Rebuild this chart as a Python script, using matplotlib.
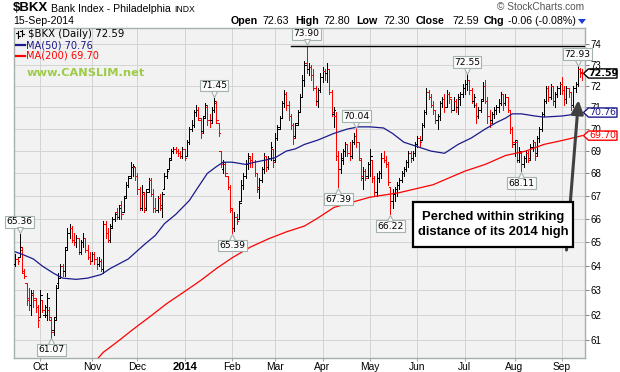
import numpy as np
import pandas as pd
import matplotlib
matplotlib.use('Agg')
import matplotlib.pyplot as plt
import matplotlib.transforms as mtrans
from matplotlib.collections import LineCollection
from matplotlib.patches import Polygon, Rectangle, FancyArrowPatch
from matplotlib.lines import Line2D
from matplotlib.ticker import FixedLocator, FixedFormatter, NullLocator

# --- data: $BKX daily bars, 16-Sep-2013 .. 15-Sep-2014 ---
holidays = ['2013-11-28', '2013-12-25', '2014-01-01', '2014-01-20', '2014-02-17',
            '2014-04-18', '2014-05-26', '2014-07-04', '2014-09-01']
days = pd.bdate_range('2013-09-16', '2014-09-15', freq='C', holidays=holidays)

opens = [
    # Sep
    64.1, 64.3, 64.4, 64.7, 63.7, 63.3, 62.7, 62.4, 62.8, 62.6, 62.3,
    # Oct
    61.9, 62.6, 62.0, 62.0, 62.2, 61.8, 61.4, 61.9, 63.3, 63.6, 64.0, 63.8, 64.8, 65.4, 65.6, 65.1,
    65.0, 65.2, 64.6, 65.0, 65.2, 64.7, 64.4,
    # Nov
    64.2, 64.5, 64.3, 64.1, 64.2, 63.9, 65.8, 65.4, 65.1, 65.7, 66.0, 66.3, 66.1, 66.6, 66.3, 67.0,
    67.5, 67.9, 68.3, 68.3,
    # Dec
    67.9, 67.3, 66.5, 67.1, 66.5, 67.3, 67.7, 67.1, 66.5, 66.4, 66.9, 66.5, 67.3, 67.9, 68.2, 68.7,
    69.0, 69.1, 69.0, 68.9, 68.8,
    # Jan
    69.1, 68.8, 69.4, 70.0, 70.2, 70.8, 70.9, 70.4, 69.9, 70.6, 71.0, 70.4, 70.4, 70.9, 71.2, 70.3,
    69.0, 68.2, 68.4, 67.9, 67.4,
    # Feb
    66.4, 65.6, 66.1, 66.0, 66.8, 67.5, 67.9, 68.4, 68.7, 68.6, 68.5, 68.0, 67.3, 67.7, 68.2, 68.8,
    68.3, 68.7, 69.1,
    # Mar
    68.6, 69.6, 70.1, 70.5, 71.2, 71.6, 71.1, 70.6, 70.2, 69.7, 70.3, 70.8, 71.5, 72.3, 73.1, 72.8,
    72.9, 72.5, 71.9, 71.3, 71.8,
    # Apr
    72.4, 72.7, 72.6, 72.8, 71.7, 70.7, 70.6, 68.8, 68.2, 68.6, 69.0, 69.3, 68.9, 68.8, 69.4, 69.7,
    69.4, 68.6, 67.8, 68.1, 67.9,
    # May
    68.4, 68.6, 67.8, 67.2, 67.8, 68.0, 68.7, 68.6, 68.4, 67.4, 66.8, 67.1, 67.3, 67.5, 67.7, 68.0,
    68.2, 68.5, 68.9, 68.7, 68.9,
    # Jun
    69.3, 69.6, 69.5, 70.2, 70.8, 71.7, 71.5, 71.1, 70.9, 70.4, 70.6, 71.2, 71.4, 71.0, 71.6, 71.4,
    70.9, 71.3, 71.0, 71.4, 71.6,
    # Jul
    71.9, 72.1, 72.3, 71.8, 71.3, 71.1, 70.6, 70.9, 71.4, 72.0, 71.3, 70.6, 70.4, 70.7, 70.9, 71.0,
    71.2, 71.6, 71.2, 71.5, 70.9, 70.0,
    # Aug
    69.3, 69.4, 68.6, 68.9, 68.4, 68.7, 68.9, 68.7, 69.2, 69.4, 68.9, 69.6, 70.0, 70.7, 71.3, 71.9,
    71.5, 72.0, 71.3, 71.6, 71.9,
    # Sep
    72.1, 71.8, 71.4, 71.9, 71.7, 71.1, 71.9, 72.1, 72.8, 72.63,
]
highs = [
    64.5, 64.4, 65.36, 64.8, 63.9, 63.3, 63.1, 63.0, 63.0, 62.7, 62.4,
    63.0, 62.6, 62.4, 62.9, 62.3, 61.9, 61.9, 63.2, 63.7, 64.1, 64.1, 64.8, 65.6, 65.8, 65.7, 65.4,
    65.3, 65.2, 65.1, 65.4, 65.2, 64.9, 64.6,
    64.6, 64.6, 64.4, 64.4, 64.3, 65.9, 65.9, 65.6, 65.8, 66.1, 66.3, 66.5, 66.6, 66.8, 67.0, 67.6,
    67.9, 68.5, 68.4, 68.3,
    68.0, 67.4, 67.5, 67.2, 67.3, 67.8, 67.8, 67.3, 66.9, 67.0, 67.1, 67.2, 68.0, 68.2, 68.7, 69.1,
    69.2, 69.2, 69.1, 69.0, 69.2,
    69.1, 69.5, 70.1, 70.4, 70.9, 71.1, 71.0, 70.5, 70.6, 71.2, 71.1, 70.7, 71.0, 71.45, 71.3, 70.3,
    69.0, 68.6, 68.5, 67.9, 67.5,
    66.5, 66.3, 66.2, 66.8, 67.7, 68.0, 68.6, 68.9, 68.8, 68.9, 68.6, 68.0, 67.8, 68.3, 68.9, 68.8,
    68.8, 69.4, 69.1,
    69.8, 70.2, 70.6, 71.3, 71.8, 71.7, 71.3, 70.7, 70.3, 70.3, 70.9, 71.6, 72.5, 73.2, 73.90, 73.1,
    73.0, 72.8, 72.0, 71.9, 72.6,
    72.9, 72.8, 73.1, 72.8, 71.8, 71.0, 70.8, 69.0, 68.9, 69.1, 69.4, 69.3, 69.4, 69.5, 69.8, 70.04,
    69.4, 68.7, 68.3, 68.2, 68.5,
    69.1, 68.6, 67.9, 68.0, 68.1, 68.9, 69.0, 68.8, 68.5, 67.4, 67.3, 67.4, 67.6, 67.8, 68.1, 68.3,
    68.6, 69.0, 69.0, 69.0, 69.4,
    69.7, 69.7, 70.3, 70.9, 71.9, 71.8, 71.6, 71.3, 70.9, 70.7, 71.3, 71.5, 71.6, 71.8, 71.7, 71.4,
    71.5, 71.4, 71.6, 71.7, 72.1,
    72.3, 72.55, 72.3, 71.9, 71.6, 71.2, 71.0, 71.4, 72.2, 72.3, 71.5, 70.9, 70.8, 71.0, 71.1, 71.4,
    71.7, 71.6, 71.6, 71.5, 70.9, 70.1,
    69.5, 69.5, 69.2, 69.0, 68.8, 69.0, 69.0, 69.3, 69.5, 69.4, 69.7, 70.1, 70.8, 71.4, 72.0, 72.0,
    72.1, 72.0, 71.7, 72.0, 72.2,
    72.4, 72.0, 72.0, 71.9, 71.7, 72.0, 72.2, 72.93, 72.85, 72.80,
]
lows = [
    64.0, 64.1, 64.4, 63.7, 63.5, 62.4, 62.2, 62.0, 62.3, 62.1, 61.5,
    61.9, 62.1, 61.9, 61.8, 61.8, 61.07, 61.2, 61.8, 63.1, 63.5, 63.6, 63.6, 64.7, 65.2, 65.0, 64.9,
    64.8, 64.5, 64.5, 64.8, 64.6, 64.3, 64.1,
    64.2, 64.1, 63.9, 64.0, 63.8, 63.7, 65.2, 65.0, 65.0, 65.6, 65.9, 66.0, 66.0, 66.0, 66.3, 66.9,
    67.4, 67.8, 67.9, 67.7,
    67.1, 66.4, 66.4, 66.3, 66.4, 67.2, 67.0, 66.3, 66.3, 66.3, 66.4, 66.1, 67.3, 67.8, 68.2, 68.6,
    68.9, 68.9, 68.8, 68.7, 68.7,
    68.6, 68.8, 69.3, 69.9, 70.1, 70.6, 70.4, 69.6, 69.8, 70.5, 70.2, 70.1, 70.3, 70.8, 70.3, 69.7,
    68.3, 68.0, 67.9, 67.3, 66.3,
    65.39, 65.5, 65.8, 66.0, 66.8, 67.3, 67.8, 68.2, 68.3, 68.3, 67.9, 67.2, 66.9, 67.6, 68.0, 68.1,
    68.2, 68.6, 68.3,
    68.5, 69.5, 70.0, 70.5, 71.0, 70.9, 70.4, 70.0, 69.3, 69.6, 70.2, 70.8, 71.5, 72.0, 72.6, 72.5,
    72.3, 71.8, 71.1, 71.0, 71.7,
    72.2, 72.3, 72.2, 71.6, 70.6, 70.1, 68.6, 67.39, 68.0, 68.4, 68.8, 68.8, 68.6, 68.7, 69.3, 69.2,
    68.6, 67.7, 67.3, 67.7, 67.8,
    67.9, 67.6, 67.0, 67.0, 67.6, 67.8, 68.5, 68.3, 67.5, 66.22, 66.5, 66.8, 67.0, 67.3, 67.6, 67.9,
    68.1, 68.3, 68.5, 68.6, 68.8,
    69.2, 69.2, 69.5, 70.1, 70.7, 71.4, 71.0, 70.7, 70.3, 70.0, 70.4, 71.0, 70.8, 71.0, 71.2, 70.8,
    70.9, 70.8, 70.7, 71.1, 71.5,
    71.6, 71.8, 71.6, 71.2, 71.0, 70.3, 70.5, 70.8, 71.3, 71.2, 70.3, 70.1, 70.3, 70.5, 70.7, 70.8,
    71.1, 70.9, 71.1, 70.8, 69.8, 69.2,
    68.8, 68.5, 68.5, 68.11, 68.3, 68.5, 68.5, 68.6, 69.0, 68.6, 68.8, 69.4, 69.9, 70.6, 71.2, 71.3,
    71.4, 71.1, 71.0, 71.5, 71.6,
    71.6, 71.1, 71.2, 71.5, 70.9, 71.0, 71.7, 72.0, 72.4, 72.30,
]
closes = [
    64.3, 64.2, 64.8, 63.8, 63.6, 62.6, 62.4, 62.9, 62.7, 62.3, 61.8,
    62.8, 62.2, 62.3, 62.7, 61.9, 61.3, 61.8, 63.1, 63.5, 64.0, 63.8, 64.7, 65.4, 65.6, 65.1, 65.0,
    65.2, 64.6, 65.0, 65.2, 64.7, 64.4, 64.2,
    64.5, 64.3, 64.1, 64.2, 63.9, 65.8, 65.4, 65.1, 65.6, 66.0, 66.2, 66.1, 66.5, 66.2, 66.9, 67.5,
    67.8, 68.3, 68.35, 67.9,
    67.3, 66.5, 67.2, 66.4, 67.2, 67.7, 67.1, 66.5, 66.4, 66.9, 66.6, 67.1, 67.9, 68.1, 68.6, 69.0,
    69.1, 69.0, 68.9, 68.8, 69.1,
    68.7, 69.4, 70.0, 70.2, 70.8, 70.9, 70.5, 69.8, 70.5, 71.1, 70.4, 70.3, 70.9, 71.3, 70.4, 69.8,
    68.4, 68.5, 68.0, 67.4, 66.5,
    65.6, 66.1, 65.9, 66.7, 67.5, 67.9, 68.4, 68.8, 68.6, 68.5, 68.0, 67.4, 67.7, 68.2, 68.8, 68.3,
    68.7, 69.2, 68.5,
    69.6, 70.0, 70.5, 71.2, 71.6, 71.1, 70.6, 70.2, 69.6, 70.2, 70.8, 71.5, 72.3, 73.0, 72.8, 72.9,
    72.5, 71.9, 71.3, 71.8, 72.4,
    72.7, 72.6, 72.8, 71.7, 70.8, 70.9, 68.8, 68.2, 68.7, 69.0, 69.3, 68.9, 68.8, 69.4, 69.7, 69.4,
    68.7, 67.9, 68.1, 67.8, 68.4,
    68.8, 67.8, 67.2, 67.8, 68.0, 68.7, 68.6, 68.4, 67.6, 66.8, 67.1, 67.3, 67.5, 67.7, 68.0, 68.2,
    68.5, 68.9, 68.7, 68.9, 69.3,
    69.6, 69.4, 70.2, 70.8, 71.7, 71.5, 71.1, 70.9, 70.4, 70.6, 71.2, 71.4, 71.0, 71.6, 71.5, 70.9,
    71.3, 71.0, 71.5, 71.6, 71.9,
    72.1, 72.3, 71.8, 71.3, 71.5, 70.6, 70.9, 71.3, 72.0, 71.3, 70.6, 70.3, 70.7, 70.9, 71.0, 71.2,
    71.6, 71.2, 71.5, 70.9, 70.0, 69.4,
    69.5, 68.6, 69.0, 68.4, 68.7, 68.9, 68.6, 69.2, 69.4, 68.8, 69.6, 70.0, 70.7, 71.3, 71.9, 71.5,
    72.0, 71.3, 71.6, 71.9, 72.1,
    71.8, 71.4, 71.9, 71.7, 71.1, 71.9, 72.1, 72.8, 72.65, 72.59,
]

# moving averages (bar index, value)
ma50_idx = [0, 3, 8, 12, 17, 21, 27, 32, 38, 42, 50, 57, 62, 66, 71, 77, 81, 85, 89, 92, 96, 102,
            106, 111, 115, 120, 124, 128, 134, 141, 147, 152, 157, 163, 167, 172, 178, 184, 190,
            196, 202, 208, 213, 217, 220, 224, 230, 234, 242, 249, 251]
ma50_val = [64.6, 64.5, 64.3, 64.0, 63.7, 63.5, 63.45, 63.5, 63.65, 63.9, 64.3, 64.9, 65.3, 65.8,
            66.2, 66.8, 67.4, 68.0, 68.3, 68.5, 68.5, 68.4, 68.5, 68.6, 68.7, 69.0, 69.1, 69.3, 69.5,
            69.8, 70.0, 70.1, 70.1, 70.05, 69.8, 69.4, 69.2, 69.0, 68.9, 69.3, 69.6, 70.0, 70.3,
            70.5, 70.7, 70.7, 70.6, 70.55, 70.6, 70.7, 70.76]
ma200_idx = [30, 35, 39, 45, 52, 60, 67, 75, 82, 89, 96, 104, 112, 120, 128, 134, 141, 148, 157,
             170, 185, 192, 199, 208, 217, 226, 234, 243, 251]
ma200_val = [59.85, 60.1, 60.5, 60.9, 61.4, 61.95, 62.45, 62.95, 63.4, 63.9, 64.35, 64.8, 65.15,
             65.45, 65.7, 66.05, 66.5, 66.7, 66.95, 67.15, 67.5, 67.8, 68.1, 68.4, 68.8, 69.0,
             69.3, 69.5, 69.7]

hi_marks = [2, 88, 129, 151, 200, 249]
lo_marks = [16, 96, 143, 166, 224]

W, H = 620, 372
fig = plt.figure(figsize=(W / 100, H / 100), dpi=100)
ax = fig.add_axes([13.5 / W, 1 - 357.5 / H, (585 - 13.5) / W, (357.5 - 28) / H])
ax.set_facecolor('#f2f2f2')
ax.set_yscale('log')
ax.set_xlim(-0.8, 252.2)
ax.set_ylim(60.29, 74.78)

n = len(closes)
segs, cols = [], []
for i in range(n):
    c = 'red' if i > 0 and closes[i] < closes[i - 1] else 'black'
    segs += [[(i, lows[i]), (i, highs[i])],
             [(i - 0.7, opens[i]), (i, opens[i])],
             [(i, closes[i]), (i + 0.7, closes[i])]]
    cols += [c] * 3
ax.add_collection(LineCollection(segs, colors=cols, linewidths=0.55, antialiased=False, zorder=3))

ax.plot(ma50_idx, ma50_val, color='#1a1a8c', lw=0.9, zorder=4)
ax.plot(ma200_idx, ma200_val, color='#ff0000', lw=0.9, zorder=4)

# 2014 high line
ax.plot([122, 252.2], [73.90, 73.90], color='black', lw=1, zorder=4)

# grid + ticks
month_start = [i for i in range(1, n) if days[i].month != days[i - 1].month]
month_lab = ['2014' if days[i].month == 1 else days[i].strftime('%b') for i in month_start]
ax.xaxis.set_major_locator(FixedLocator(month_start))
ax.xaxis.set_major_formatter(FixedFormatter(month_lab))
yt = list(range(61, 75))
ax.yaxis.set_major_locator(FixedLocator(yt))
ax.yaxis.set_major_formatter(FixedFormatter([str(v) for v in yt]))
ax.yaxis.set_minor_locator(NullLocator())
ax.yaxis.tick_right()
ax.grid(True, color='#d4d4d4', lw=0.7, zorder=0)
ax.set_axisbelow(True)
ax.tick_params(axis='y', length=3, width=0.7, color='#808080', pad=1, labelsize=7)
ax.tick_params(axis='x', length=2, width=0.7, color='#a0a0a0', pad=1.5, labelsize=7.4)
for lab in ax.get_xticklabels() + ax.get_yticklabels():
    lab.set_family('Liberation Sans')
for lab in ax.get_xticklabels():
    if lab.get_text() == '2014':
        lab.set_fontweight('bold')
        lab.set_fontsize(8)
for s in ax.spines.values():
    s.set_color('#a6b0ae')
    s.set_linewidth(1)

# price marks
bc = '#a3b3aa'
for i in hi_marks:
    ax.annotate(f'{highs[i]:.2f}', xy=(i, highs[i]), xytext=(0, 5.5), textcoords='offset points',
                ha='center', va='bottom', fontsize=6.6, zorder=8,
                bbox=dict(boxstyle='square,pad=0.15', fc='#fbfbfb', ec=bc, lw=0.8))
    tr = ax.transData + mtrans.ScaledTranslation(0, 2.6 / 72, fig.dpi_scale_trans)
    ax.plot([i], [highs[i]], marker='v', ms=5, mfc='#fbfbfb', mec=bc, mew=0.8, transform=tr,
            zorder=9, clip_on=False)
for i in lo_marks:
    ax.annotate(f'{lows[i]:.2f}', xy=(i, lows[i]), xytext=(0, -5.5), textcoords='offset points',
                ha='center', va='top', fontsize=6.6, zorder=8,
                bbox=dict(boxstyle='square,pad=0.15', fc='#fbfbfb', ec=bc, lw=0.8))
    tr = ax.transData + mtrans.ScaledTranslation(0, -2.6 / 72, fig.dpi_scale_trans)
    ax.plot([i], [lows[i]], marker='^', ms=5, mfc='#fbfbfb', mec=bc, mew=0.8, transform=tr,
            zorder=9, clip_on=False)

ident = mtrans.IdentityTransform()


def px(xp, yp):
    return xp, H - yp


# right-side value tags (they sit over the axis labels, as on the original)
for val, txt, col, wt in [(closes[-1], f'{closes[-1]:.2f}', 'black', 'bold'),
                          (ma50_val[-1], f'{ma50_val[-1]:.2f}', '#1a1a8c', 'normal'),
                          (ma200_val[-1], f'{ma200_val[-1]:.2f}', '#ff0000', 'normal')]:
    yd = ax.transData.transform((0, val))[1]
    verts = [(583.5, yd), (588.5, yd + 4.6), (617, yd + 4.6), (617, yd - 4.6), (588.5, yd - 4.6)]
    fig.add_artist(Polygon(verts, closed=True, fc='white', ec=col, lw=1.0, transform=ident, zorder=5))
    fig.text(603, yd, txt, transform=ident, ha='center', va='center', fontsize=6.8,
             color=col, fontweight=wt, family='DejaVu Sans', zorder=6)

# header
fig.text(*px(13, 8), '$BKX', transform=ident, fontsize=9.5, fontweight='bold',
         family='Liberation Sans', va='center')
fig.text(*px(51, 8.5), 'Bank Index - Philadelphia', transform=ident, fontsize=7.6,
         family='Liberation Sans', va='center')
fig.text(*px(174, 9), 'INDX', transform=ident, fontsize=6.2, family='Liberation Sans', va='center')
fig.text(*px(13, 21), '15-Sep-2014', transform=ident, fontsize=7.6, family='Liberation Sans',
         va='center')
fig.text(*px(497, 7.5), '\u00a9 StockCharts.com', transform=ident, fontsize=7.3,
         family='Liberation Sans', color='#555555', va='center')
pieces = [(231, 'Open', 'bold'), (262, '72.63', 'normal'), (295, 'High', 'bold'),
          (323, '72.80', 'normal'), (356, 'Low', 'bold'), (383, '72.30', 'normal'),
          (416, 'Close', 'bold'), (452, '72.59', 'normal'), (484, 'Chg', 'bold'),
          (508, '-0.06 (-0.08%)', 'normal')]
for xp, t, wt in pieces:
    fig.text(*px(xp, 21.5), t, transform=ident, fontsize=7.7, fontweight=wt,
             family='Liberation Sans', va='center')
fig.add_artist(Polygon([(578, H - 19), (586, H - 19), (582, H - 24)], closed=True,
                       fc='#1f3fd0', ec='none', transform=ident))

# legend block
for xx, y0, y1, yo, yc in [(18, 31, 38, 33, 36), (22, 30, 36, 31, 34)]:
    fig.add_artist(Line2D([xx, xx], [H - y0, H - y1], color='black', lw=0.8, transform=ident))
    fig.add_artist(Line2D([xx - 2, xx], [H - yo, H - yo], color='black', lw=0.8, transform=ident))
    fig.add_artist(Line2D([xx, xx + 2], [H - yc, H - yc], color='black', lw=0.8, transform=ident))
fig.text(*px(28, 34), '$BKX (Daily) 72.59', transform=ident, fontsize=7.3, family='DejaVu Sans',
         va='center')
fig.add_artist(Line2D([16, 25], [H - 45, H - 45], color='#1a1a8c', lw=1.6, transform=ident))
fig.text(*px(26, 45), f'MA(50) {ma50_val[-1]:.2f}', transform=ident, fontsize=7.1,
         family='DejaVu Sans', color='#1a1a8c', va='center')
fig.add_artist(Line2D([16, 25], [H - 56, H - 56], color='#ff0000', lw=1.6, transform=ident))
fig.text(*px(26, 56), f'MA(200) {ma200_val[-1]:.2f}', transform=ident, fontsize=7.1,
         family='DejaVu Sans', color='#ff0000', va='center')
fig.text(*px(27, 73), 'www.CANSLIM.net', transform=ident, fontsize=8.2, fontweight='bold',
         family='DejaVu Sans', color='#9ccc48', va='center')

# callout
fig.add_artist(FancyArrowPatch(px(566.5, 250), px(578.5, 100), transform=ident,
                               arrowstyle='-|>,head_length=8,head_width=3.6', lw=2.2,
                               color='#404040', shrinkA=0, shrinkB=0, zorder=5))
fig.add_artist(Rectangle(px(413, 247), 160, 45, transform=ident, fc='white', ec='black',
                         lw=1.6, zorder=6))
fig.text(*px(493, 217), 'Perched within striking', transform=ident, ha='center', va='center',
         fontsize=9.4, fontweight='bold', family='Liberation Sans', zorder=7)
fig.text(*px(493, 232.5), 'distance of its 2014 high', transform=ident, ha='center',
         va='center', fontsize=9.4, fontweight='bold', family='Liberation Sans', zorder=7)

fig.savefig('out.png', dpi=100)
